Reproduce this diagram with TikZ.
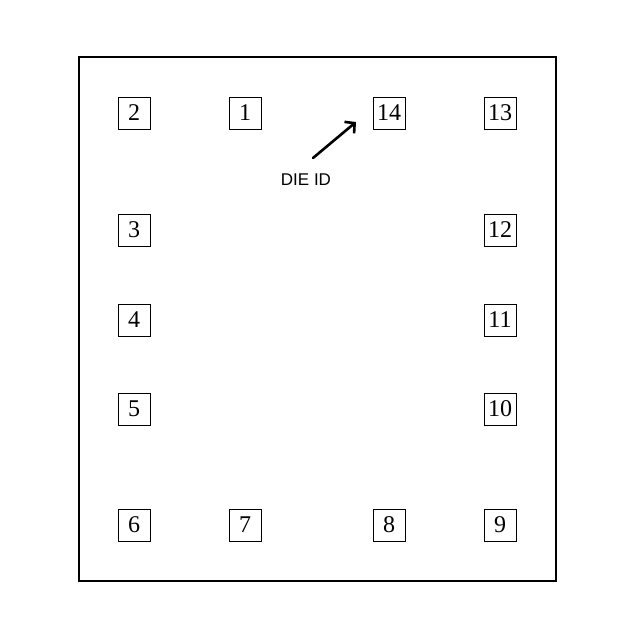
\documentclass[tikz,border=0pt]{standalone}
\usepackage{fontspec}
\setmainfont{Liberation Serif}
\newfontfamily\labelfont{Liberation Sans}
\usetikzlibrary{arrows.meta}

\begin{document}
\begin{tikzpicture}[x = 1pt, y = -1pt]
      \tikzset{pad/.style = {draw, line width = 0.9pt, minimum size = 32pt,
      inner sep = 0pt, font = \fontsize{24}{24}\selectfont}}
      \tikzset{idlabel/.style = {font = \labelfont\fontsize{17}{17}\selectfont}}
      \useasboundingbox (0,0) rectangle (640,640);
      \draw[line width = 1.3pt] (79,57) rectangle (556,581);
      % top row
      \node[pad] (p2)  at (134,113) {2};
      \node[pad] (p1)  at (245,113) {1};
      \node[pad] (p14) at (389,113) {14};
      \node[pad] (p13) at (500,113) {13};
      % left side
      \node[pad] (p3) at (134,230) {3};
      \node[pad] (p4) at (134,320) {4};
      \node[pad] (p5) at (134,409) {5};
      % right side
      \node[pad] (p12) at (500,230) {12};
      \node[pad] (p11) at (500,320) {11};
      \node[pad] (p10) at (500,409) {10};
      % bottom row
      \node[pad] (p6) at (134,525) {6};
      \node[pad] (p7) at (245,525) {7};
      \node[pad] (p8) at (389,525) {8};
      \node[pad] (p9) at (500,525) {9};
      % die id marker
      \node[idlabel] (dieid) at (306,180) {DIE ID};
      \coordinate (tail) at (313,158);
      \coordinate (tip)  at (356,122);
      \draw[line width = 2.6pt, line cap = round,
      -{Straight Barb[length = 7pt, width = 15pt, line width = 2.6pt]}] (tail) -- (tip);
    \end{tikzpicture}
\end{document}
